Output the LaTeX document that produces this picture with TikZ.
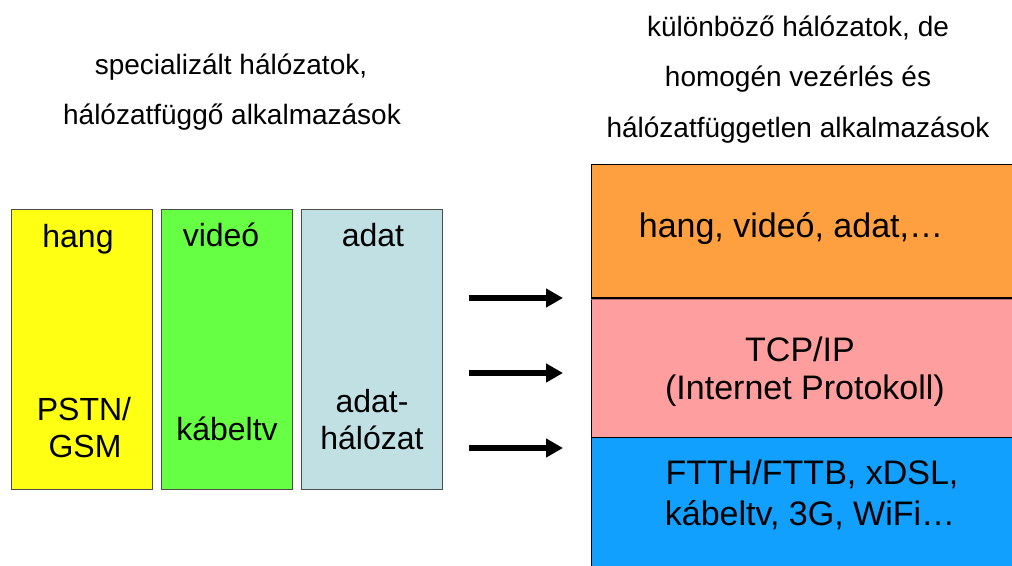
\documentclass[tikz,border=0pt]{standalone}
\usepackage{fontspec}
\setmainfont{Liberation Sans}
\usetikzlibrary{arrows.meta}

\definecolor{voiceyellow}{HTML}{FFFF14}
\definecolor{videogreen}{HTML}{66FF44}
\definecolor{datagrey}{HTML}{C0E0E4}
\definecolor{apporange}{HTML}{FFA040}
\definecolor{ippink}{HTML}{FF9E9E}
\definecolor{accessblue}{HTML}{12A0FF}

\tikzset{
  column/.style={draw=black!70, line width=1pt},
  layer/.style={draw=black, line width=1pt},
  header/.style={anchor=base, inner sep=0pt, font=\fontsize{28}{34}\selectfont},
  colabel/.style={anchor=base, inner sep=0pt, font=\fontsize{32}{38}\selectfont},
  laylabel/.style={anchor=base, inner sep=0pt, font=\fontsize{34}{40}\selectfont},
  bigarrow/.style={line width=6pt, -{Triangle[length=17pt,width=18pt]}}
}

\begin{document}
\begin{tikzpicture}[x=1pt, y=-1pt]
\useasboundingbox (0,0) rectangle (1012,565);
\clip (0,0) rectangle (1012,565);

% headings
\node[header] (lh1) at (231,74) {specializált hálózatok,};
\node[header] (lh2) at (232,124) {hálózatfüggő alkalmazások};
\node[header] (rh1) at (798,36) {különböző hálózatok, de};
\node[header] (rh2) at (798,86) {homogén vezérlés és};
\node[header] (rh3) at (798,137) {hálózatfüggetlen alkalmazások};

% separate service networks
\path[column, fill=voiceyellow] (11,209) rectangle (152,489);
\path[column, fill=videogreen] (161,209) rectangle (292,489);
\path[column, fill=datagrey] (301,209) rectangle (442,489);

\node[colabel] (hang) at (78,247) {hang};
\node[colabel] (video) at (221,246) {videó};
\node[colabel] (adat) at (373,246) {adat};
\node[colabel] (pstn) at (84,420) {PSTN/};
\node[colabel] (gsm) at (85,457) {GSM};
\node[colabel] (kabel) at (227,440) {kábeltv};
\node[colabel] (adat2) at (372,412) {adat-};
\node[colabel] (halo) at (372,449) {hálózat};

% transition arrows
\coordinate (a1s) at (469,298); \coordinate (a1e) at (563,298);
\coordinate (a2s) at (469,373); \coordinate (a2e) at (563,373);
\coordinate (a3s) at (469,448); \coordinate (a3e) at (563,448);
\draw[bigarrow] (a1s) -- (a1e);
\draw[bigarrow] (a2s) -- (a2e);
\draw[bigarrow] (a3s) -- (a3e);

% layered, IP based network
\path[layer, fill=accessblue] (591,437) rectangle (1030,580);
\path[layer, fill=ippink] (591,298) rectangle (1030,437);
\draw[ippink!70!black, line width=1pt] (591,299.5) -- (1030,299.5);
\path[layer, fill=apporange] (591,164) rectangle (1030,297);

\node[laylabel] (svc) at (791,237) {hang, videó, adat,…};
\node[laylabel] (tcp) at (800,361) {TCP/IP};
\node[laylabel] (inet) at (805,399) {(Internet Protokoll)};
\node[laylabel] (acc1) at (812,484) {FTTH/FTTB, xDSL,};
\node[laylabel] (acc2) at (810,525) {kábeltv, 3G, WiFi…};
\end{tikzpicture}
\end{document}
